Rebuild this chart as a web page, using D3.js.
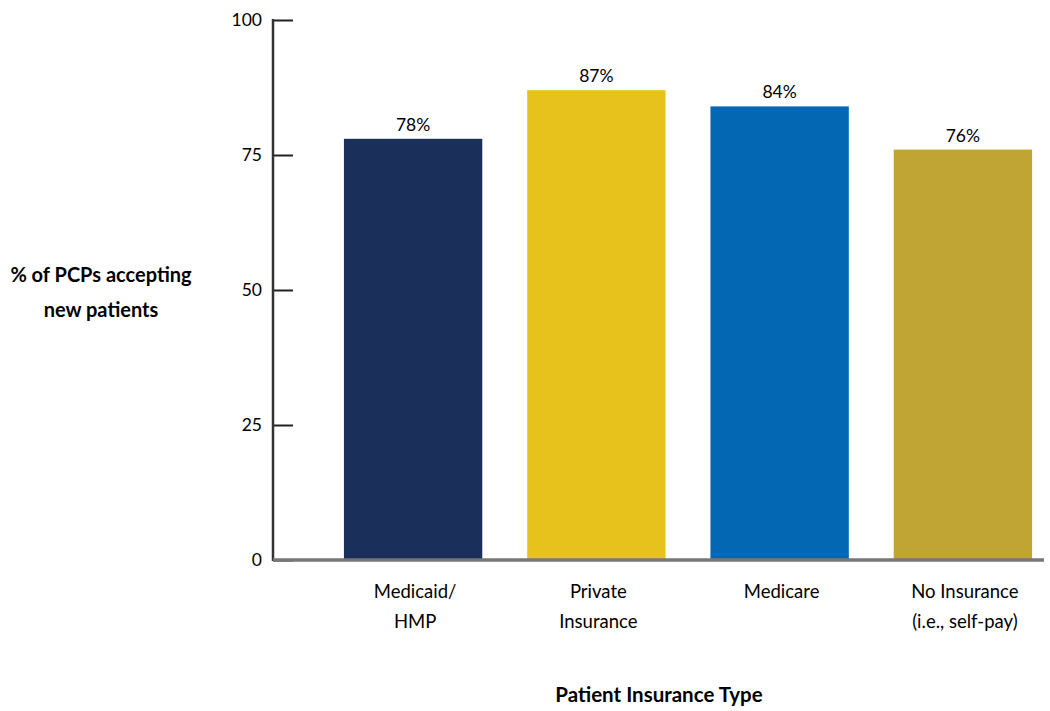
<!DOCTYPE html>
<html>
<head>
<meta charset="utf-8">
<script src="https://cdn.jsdelivr.net/npm/d3@7"></script>
<style>
  body { margin: 0; background: #fff; }
  text { font-family: Lato, "Open Sans", sans-serif; fill: #000; }
</style>
</head>
<body>
<svg></svg>
<script>
// values
var categories = ['Medicaid/|HMP', 'Private|Insurance', 'Medicare', 'No Insurance|(i.e., self-pay)'];
var values = [78, 87, 84, 76];
var colors = ['#1b2f5b', '#e8c21c', '#0367b3', '#c0a535'];
var yTicks = [0, 25, 50, 75, 100];

var width = 1050, height = 711;

var svg = d3.select('svg')
    .attr('width', width)
    .attr('height', height);

var axisX = 273, baseY = 560, topY = 20;

var x = d3.scaleBand()
    .domain(categories)
    .range([axisX, 1103])
    .paddingInner(0.245)
    .paddingOuter(0.387);

var y = d3.scaleLinear().domain([0, 100]).range([baseY, topY]);

// bars
svg.append('g').selectAll('rect')
    .data(values)
    .enter()
    .append('rect')
    .attr('x', function(d, i) { return x(categories[i]); })
    .attr('y', function(d) { return y(d); })
    .attr('width', x.bandwidth())
    .attr('height', function(d) { return baseY - y(d); })
    .attr('fill', function(d, i) { return colors[i]; });

// value labels
svg.append('g').selectAll('text')
    .data(values)
    .enter()
    .append('text')
    .attr('x', function(d, i) { return x(categories[i]) + x.bandwidth() / 2; })
    .attr('y', function(d) { return y(d) - 8; })
    .attr('text-anchor', 'middle')
    .style('font-size', '17.5px')
    .text(function(d) { return d + '%'; });

// y axis
var yAxis = d3.axisRight(y).tickValues(yTicks).tickSize(20).tickFormat(d3.format('d'));
var gy = svg.append('g')
    .attr('transform', 'translate(' + axisX + ',0)')
    .call(yAxis);
gy.select('.domain').remove();
gy.selectAll('.tick line').attr('stroke', '#222').attr('stroke-width', 2);
gy.selectAll('.tick text')
    .attr('x', -11)
    .attr('text-anchor', 'end')
    .attr('fill', '#000')
    .style('font-size', '17.5px')
    .style('font-family', 'Lato, sans-serif');
gy.append('line')
    .attr('x1', 0).attr('x2', 0)
    .attr('y1', topY - 1).attr('y2', baseY + 1)
    .attr('stroke', '#333').attr('stroke-width', 2.5);

// x baseline
svg.append('line')
    .attr('x1', axisX).attr('x2', 1044)
    .attr('y1', baseY).attr('y2', baseY)
    .attr('stroke', '#777').attr('stroke-width', 3.5);

// category labels
var cat = svg.append('g').selectAll('text')
    .data(categories)
    .enter()
    .append('text')
    .attr('text-anchor', 'middle')
    .attr('x', function(d) { return x(d) + x.bandwidth() / 2 + 2; })
    .attr('y', 598)
    .style('font-size', '18.5px');
cat.each(function(d) {
  var parts = d.split('|');
  var t = d3.select(this);
  parts.forEach(function(p, j) {
    t.append('tspan')
      .attr('x', t.attr('x'))
      .attr('dy', j === 0 ? 0 : 30)
      .text(p);
  });
});

// axis titles
svg.append('text')
    .attr('x', 659)
    .attr('y', 702)
    .attr('text-anchor', 'middle')
    .style('font-size', '20.5px')
    .style('font-weight', 'bold')
    .text('Patient Insurance Type');

var yt = svg.append('text')
    .attr('text-anchor', 'middle')
    .style('font-size', '20px')
    .style('font-weight', 'bold');
yt.append('tspan').attr('x', 101).attr('y', 282).text('% of PCPs accepting');
yt.append('tspan').attr('x', 101).attr('y', 317).text('new patients');
</script>
</body>
</html>
